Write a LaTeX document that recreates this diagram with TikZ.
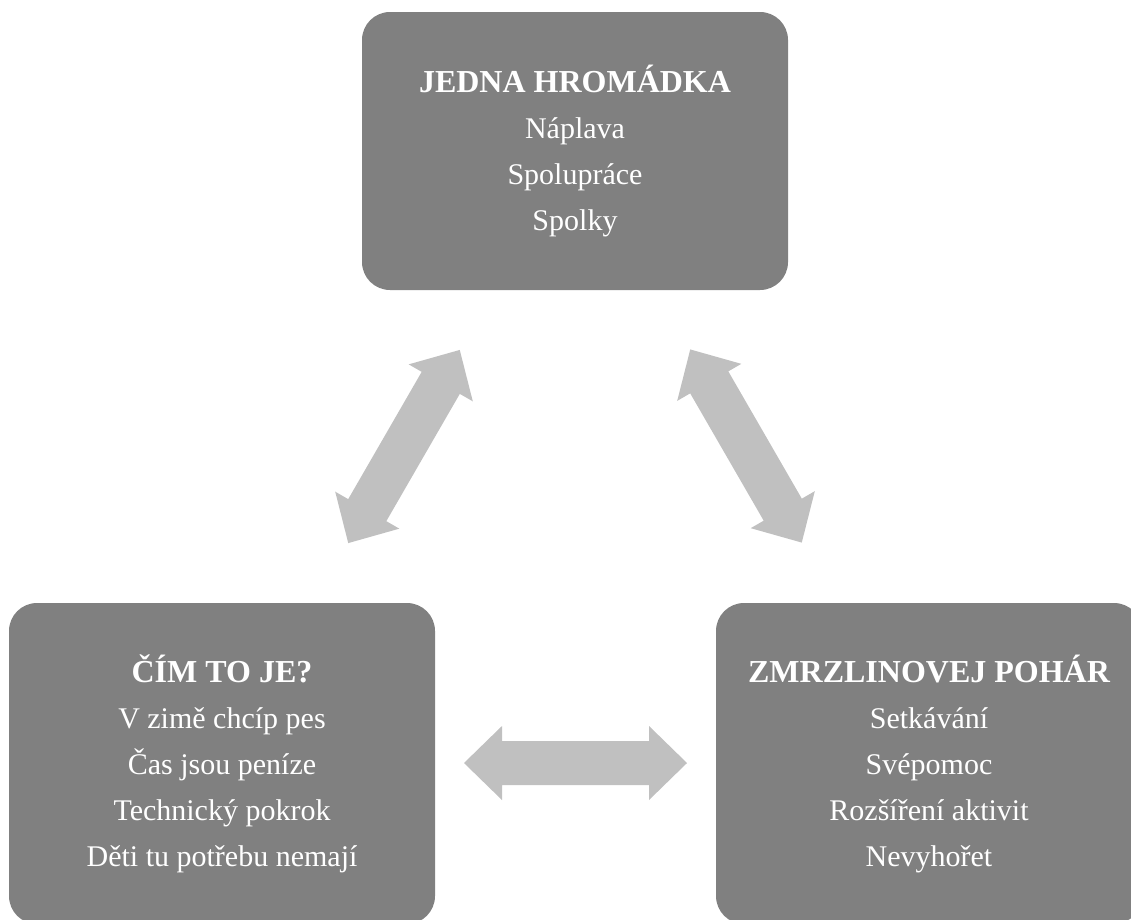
\documentclass[tikz,border=0pt]{standalone}
\usepackage{fontspec}
\setmainfont{Liberation Serif}
\usepackage{tikz}
\usepackage{xcolor}
\definecolor{boxgray}{RGB}{128,128,128}
\definecolor{arrowgray}{RGB}{192,192,192}

\newcommand{\boxtitle}[1]{{\fontsize{32}{46}\selectfont\bfseries #1}}

\tikzset{
  twoway/.pic={
    \fill[arrowgray,sharp corners] (-111.5,0) -- (-73.5,-37) -- (-73.5,-22) -- (73.5,-22)
      -- (73.5,-37) -- (111.5,0) -- (73.5,37) -- (73.5,22) -- (-73.5,22)
      -- (-73.5,37) -- cycle;
  }
}

\begin{document}
\begin{tikzpicture}
  [x=1pt,y=-1pt,every node/.style={fill=boxgray,text=white,rounded corners=28pt,
   inner sep=0pt,minimum width=426pt,align=center,
   font=\fontsize{30}{46}\selectfont}]
  \useasboundingbox[fill=white] (0,0) rectangle (1131,919);

  \node[minimum height=278pt] (pile) at (575,151)
    {\boxtitle{JEDNA HROMÁDKA}\\Náplava\\Spolupráce\\Spolky};
  \node[minimum height=321pt] (why) at (222,763.5)
    {\boxtitle{ČÍM TO JE?}\\V zimě chcíp pes\\Čas jsou peníze\\Technický pokrok\\Děti tu potřebu nemají};
  \node[minimum height=321pt] (cup) at (929,763.5)
    {\boxtitle{ZMRZLINOVEJ POHÁR}\\Setkávání\\Svépomoc\\Rozšíření aktivit\\Nevyhořet};

  \foreach \x/\y/\a in {404/446.5/60,746/446/-60,575.5/763/0}
    \pic[rotate=\a] at (\x,\y) {twoway};

\end{tikzpicture}
\end{document}
